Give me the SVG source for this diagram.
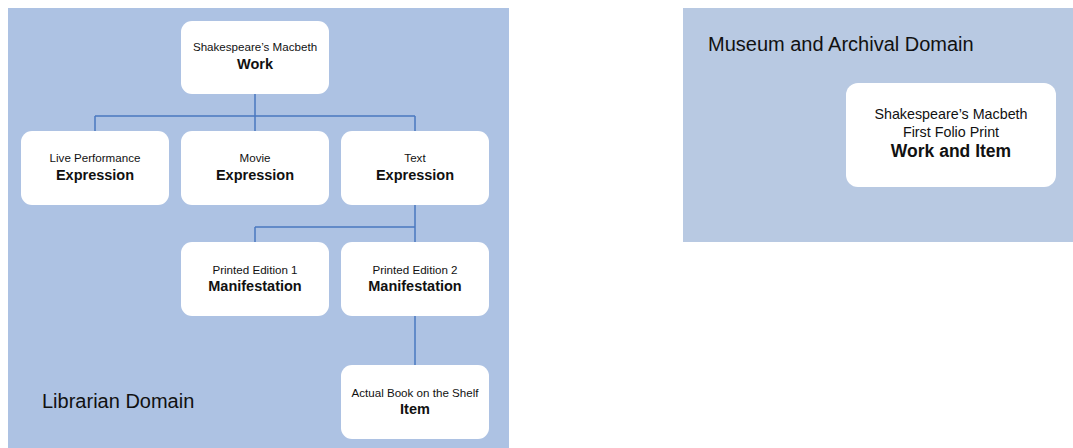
<svg xmlns="http://www.w3.org/2000/svg" width="1073" height="448" viewBox="0 0 1073 448">
  <style>
    .node { fill: #ffffff; }
    .small { font-family: "Liberation Sans", Arial, sans-serif; font-size: 11.6px; fill: #111; text-anchor: middle; }
    .bold { font-family: "Liberation Sans", Arial, sans-serif; font-size: 14.5px; font-weight: bold; fill: #111; text-anchor: middle; }
    .domain { font-family: "Liberation Sans", Arial, sans-serif; font-size: 20px; fill: #111; }
    .link { fill: none; stroke: #4a78c0; stroke-width: 1.5; }
  </style>
  <rect width="1073" height="448" fill="#ffffff"/>

  <!-- domain panels -->
  <g id="librarian-domain">
    <rect x="8" y="8" width="501" height="440" fill="#adc2e3"/>
    <text class="domain" x="42" y="408">Librarian Domain</text>
  </g>
  <g id="museum-domain">
    <rect x="683" y="8" width="390" height="234" fill="#b8c9e2"/>
    <text class="domain" x="708" y="51">Museum and Archival Domain</text>
  </g>

  <!-- tree connectors -->
  <g id="connectors">
    <path class="link" d="M255 94 V116 M95 116 H415 M95 116 V131 M255 116 V131 M415 116 V131"/>
    <path class="link" d="M415 205 V242 M255 227 H415 M255 227 V242"/>
    <path class="link" d="M415 316 V365"/>
  </g>

  <g id="work">
    <rect class="node" x="181" y="21" width="148" height="73" rx="11"/>
    <text class="small" x="255" y="51">Shakespeare’s Macbeth</text>
    <text class="bold" x="255" y="69">Work</text>
  </g>
  <g id="live-performance">
    <rect class="node" x="21" y="131" width="148" height="74" rx="11"/>
    <text class="small" x="95" y="162">Live Performance</text>
    <text class="bold" x="95" y="180">Expression</text>
  </g>
  <g id="movie">
    <rect class="node" x="181" y="131" width="148" height="74" rx="11"/>
    <text class="small" x="255" y="162">Movie</text>
    <text class="bold" x="255" y="180">Expression</text>
  </g>
  <g id="text">
    <rect class="node" x="341" y="131" width="148" height="74" rx="11"/>
    <text class="small" x="415" y="162">Text</text>
    <text class="bold" x="415" y="180">Expression</text>
  </g>
  <g id="edition-1">
    <rect class="node" x="181" y="242" width="148" height="74" rx="11"/>
    <text class="small" x="255" y="274">Printed Edition 1</text>
    <text class="bold" x="255" y="291">Manifestation</text>
  </g>
  <g id="edition-2">
    <rect class="node" x="341" y="242" width="148" height="74" rx="11"/>
    <text class="small" x="415" y="274">Printed Edition 2</text>
    <text class="bold" x="415" y="291">Manifestation</text>
  </g>
  <g id="item">
    <rect class="node" x="341" y="365" width="148" height="74" rx="11"/>
    <text class="small" x="415" y="397">Actual Book on the Shelf</text>
    <text class="bold" x="415" y="414">Item</text>
  </g>
  <g id="first-folio">
    <rect class="node" x="846" y="83" width="210" height="104" rx="12"/>
    <text class="small" x="951" y="119" style="font-size:14.3px">Shakespeare’s Macbeth</text>
    <text class="small" x="951" y="137" style="font-size:14.3px">First Folio Print</text>
    <text class="bold" x="951" y="157" style="font-size:17.5px">Work and Item</text>
  </g>
</svg>
